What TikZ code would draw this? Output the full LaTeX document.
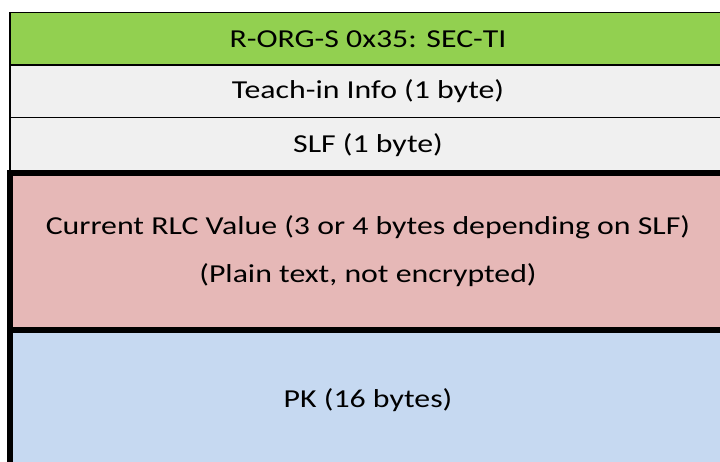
\documentclass[tikz,border=0pt]{standalone}
\usepackage{fontspec}
\setmainfont[FakeStretch=1.23]{Carlito}
\usepackage{tikz}
\usetikzlibrary{positioning}
\definecolor{rorggreen}{HTML}{92D050}
\definecolor{rowgray}{HTML}{F0F0F0}
\definecolor{rlcpink}{HTML}{E6B8B7}
\definecolor{pkblue}{HTML}{C6D9F1}

\begin{document}
\begin{tikzpicture}[x=0.75pt,y=-0.75pt,node distance=0pt,inner sep=0pt,outer sep=0pt]
  \tikzstyle{every node}=[align=center,minimum width=537pt,font=\fontsize{19.4}{33}\selectfont]
  \tikzstyle{thin row}=[draw,line width=1.3pt]
  \tikzstyle{thick row}=[draw,line width=4.2pt]
  \clip (0,0) rectangle (720,461);
  \node[thin row,fill=rorggreen,minimum height=39.4pt,anchor=north west] (rorg) at (10,12.5) {R-ORG-S 0x35: SEC-TI};
  \node[thin row,fill=rowgray,minimum height=39.4pt] (info) [below=of rorg] {Teach-in Info (1 byte)};
  \node[thin row,fill=rowgray,minimum height=41.6pt] (slf) [below=of info] {SLF (1 byte)};
  \node[thick row,fill=rlcpink,minimum height=117.75pt] (rlc) [below=of slf] {Current RLC Value (3 or 4 bytes depending on SLF)\\[3pt](Plain text, not encrypted)};
  \node[thick row,fill=pkblue,minimum height=105pt] (pk) [below=of rlc] {PK (16 bytes)};
\end{tikzpicture}
\end{document}
